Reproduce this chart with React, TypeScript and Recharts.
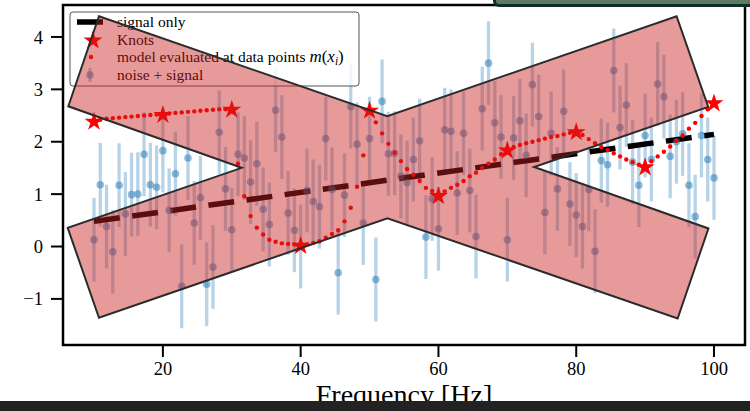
import { ComposedChart, Scatter, Line, XAxis, YAxis, ErrorBar, ReferenceArea } from 'recharts';

const freqs = [
  10.0, 10.91, 11.82, 12.73, 13.64, 14.55, 15.45, 16.36, 17.27, 18.18,
  19.09, 20.0, 20.91, 21.82, 22.73, 23.64, 24.55, 25.45, 26.36, 27.27,
  28.18, 29.09, 30.0, 30.91, 31.82, 32.73, 33.64, 34.55, 35.45, 36.36,
  37.27, 38.18, 39.09, 40.0, 40.91, 41.82, 42.73, 43.64, 44.55, 45.45,
  46.36, 47.27, 48.18, 49.09, 50.0, 50.91, 51.82, 52.73, 53.64, 54.55,
  55.45, 56.36, 57.27, 58.18, 59.09, 60.0, 60.91, 61.82, 62.73, 63.64,
  64.55, 65.45, 66.36, 67.27, 68.18, 69.09, 70.0, 70.91, 71.82, 72.73,
  73.64, 74.55, 75.45, 76.36, 77.27, 78.18, 79.09, 80.0, 80.91, 81.82,
  82.73, 83.64, 84.55, 85.45, 86.36, 87.27, 88.18, 89.09, 90.0, 90.91,
  91.82, 92.73, 93.64, 94.55, 95.45, 96.36, 97.27, 98.18, 99.09, 100.0,
];

// noise + signal
const noisy = [
  0.13, 1.18, 0.38, -0.1, 1.17, 0.62, 0.99, 1.0, 1.76, 1.18,
  1.13, 1.83, 0.69, 1.39, -0.76, 1.69, 0.45, 0.93, -0.72, -0.39,
  2.18, 1.1, 0.32, 1.76, 1.69, 1.23, 1.58, 0.71, 0.42, 2.6,
  2.09, 0.64, 0.31, 0.0, 1.07, 0.86, 0.76, 2.06, 1.09, -0.5,
  0.98, 2.67, 1.95, 0.45, 2.06, -0.63, 2.77, 1.77, 1.78, 1.34,
  1.22, 1.66, 2.02, 0.18, 0.91, 0.34, 2.23, 2.2, 1.02, 2.16,
  1.07, 0.19, 2.63, 3.5, 2.36, 2.09, 0.13, 2.07, 2.4, 1.74,
  3.09, 2.48, 0.65, 2.16, 1.1, 2.58, 0.81, 0.6, 0.38, 1.09,
  -0.09, 1.64, 1.56, 3.36, 2.27, 2.7, 1.61, 1.17, 2.12, 1.66,
  3.1, 2.86, 1.72, 2.0, 2.15, 1.17, 0.57, 2.12, 1.66, 1.31,
];

const noiseErr = [
  0.8, 0.8, 0.8, 0.8, 0.8, 0.8, 0.8, 0.8, 0.8, 0.8,
  0.8, 0.8, 0.8, 0.8, 0.8, 0.8, 0.8, 0.8, 0.8, 0.8,
  0.8, 0.8, 0.8, 0.8, 0.8, 0.8, 0.8, 0.8, 0.8, 0.8,
  0.8, 0.8, 0.8, 0.8, 0.8, 0.8, 0.8, 0.8, 0.8, 0.8,
  0.8, 0.8, 0.8, 0.8, 0.8, 0.8, 0.8, 0.8, 0.8, 0.8,
  0.8, 0.8, 0.8, 0.8, 0.8, 0.8, 0.8, 0.8, 0.8, 0.8,
  0.8, 0.8, 0.8, 0.8, 0.8, 0.8, 0.8, 0.8, 0.8, 0.8,
  0.8, 0.8, 0.8, 0.8, 0.8, 0.8, 0.8, 0.8, 0.8, 0.8,
  0.8, 0.8, 0.8, 0.8, 0.8, 0.8, 0.8, 0.8, 0.8, 0.8,
  0.8, 0.8, 0.8, 0.8, 0.8, 0.8, 0.8, 0.8, 0.8, 0.8,
];

// model evaluated at data points m(x_i)
const modelVals = [
  2.4, 2.42, 2.44, 2.45, 2.46, 2.47, 2.48, 2.49, 2.5, 2.51,
  2.52, 2.53, 2.54, 2.55, 2.56, 2.57, 2.58, 2.59, 2.6, 2.61,
  2.62, 2.62, 2.63, 1.58, 0.96, 0.58, 0.36, 0.23, 0.13, 0.09,
  0.06, 0.05, 0.04, 0.03, 0.04, 0.07, 0.1, 0.17, 0.24, 0.31,
  0.48, 0.74, 1.14, 1.74, 2.61, 2.37, 2.16, 1.96, 1.79, 1.63,
  1.48, 1.37, 1.25, 1.12, 1.06, 0.98, 1.05, 1.12, 1.18, 1.25,
  1.34, 1.41, 1.5, 1.58, 1.66, 1.76, 1.85, 1.9, 1.94, 1.97,
  2.0, 2.03, 2.06, 2.09, 2.11, 2.14, 2.17, 2.2, 2.13, 2.05,
  1.97, 1.9, 1.84, 1.78, 1.72, 1.66, 1.61, 1.56, 1.53, 1.63,
  1.72, 1.81, 1.91, 2.02, 2.12, 2.25, 2.36, 2.49, 2.62, 2.75,
];

const knotFreqs = [10, 20, 30, 40, 50, 60, 70, 80, 90, 100];
const knotVals = [2.4, 2.53, 2.63, 0.03, 2.61, 0.98, 1.85, 2.2, 1.53, 2.75];

const signalFreqs = [10, 100];
const signalVals = [0.48, 2.14];

const xTicks = [20, 40, 60, 80, 100];
const yTicks = [-1, 0, 1, 2, 3, 4];
const X_MIN = 5.5;
const X_MAX = 104.5;
const Y_MIN = -1.88;
const Y_MAX = 4.61;

// the big X drawn over the plot, vertices in data units
const crossX = [10.72, 52.57, 94.57, 99.16, 73.89, 99.19, 94.72, 52.6, 10.72, 6.18, 31.44, 6.27];
const crossY = [4.395, 2.487, 4.395, 2.666, 1.517, 0.344, -1.374, 0.54, -1.361, 0.357, 1.502, 2.677];

const pointRows = freqs.map((f, i) => ({ f, y: noisy[i], err: noiseErr[i] }));
const modelRows = freqs.map((f, i) => ({ f, y: modelVals[i] }));
const knotRows = knotFreqs.map((f, i) => ({ f, y: knotVals[i] }));
const signalRows = signalFreqs.map((f, i) => ({ f, y: signalVals[i] }));

const SERIF = '"Liberation Serif", "DejaVu Serif", serif';
const BLUE_PT = 'rgba(31,119,180,0.5)';
const BLUE_BAR = 'rgba(31,119,180,0.32)';

function starPoints(cx: number, cy: number, r: number) {
  const pts: string[] = [];
  for (let k = 0; k < 10; k++) {
    const rad = k % 2 === 0 ? r : r * 0.382;
    const a = -Math.PI / 2 + (k * Math.PI) / 5;
    pts.push(`${cx + rad * Math.cos(a)},${cy + rad * Math.sin(a)}`);
  }
  return pts.join(' ');
}

function Overlay(props: any) {
  const { x, y, width, height } = props;
  const sx = (v: number) => x + ((v - X_MIN) / (X_MAX - X_MIN)) * width;
  const sy = (v: number) => y + ((Y_MAX - v) / (Y_MAX - Y_MIN)) * height;
  const pts = crossX.map((v, i) => `${sx(v)},${sy(crossY[i])}`).join(' ');
  const lx = x + 7;
  const ly = y + 7;
  const tx = lx + 47;
  const rows = [ly + 10, ly + 27.5, ly + 45, ly + 63];
  return (
    <g>
      <rect x={x} y={y} width={width} height={height} fill="none" stroke="#000" strokeWidth={2.5} />
      <rect x={lx} y={ly} width={289} height={74} rx={3} fill="rgba(255,255,255,0.8)" stroke="#555" strokeWidth={1} />
      <line x1={lx + 7} x2={lx + 33} y1={rows[0]} y2={rows[0]} stroke="#000" strokeWidth={5.5} />
      <polygon points={starPoints(lx + 23, rows[1] + 1, 10)} fill="#ff0000" />
      <circle cx={lx + 21} cy={rows[2]} r={2.2} fill="#ff0000" />
      <line x1={lx + 20} x2={lx + 20} y1={rows[3] - 7} y2={rows[3] + 7} stroke={BLUE_BAR} strokeWidth={3.3} />
      <circle cx={lx + 20} cy={rows[3]} r={3.8} fill={BLUE_PT} />
      <g fontFamily={SERIF} fontSize={15.5} fill="#000">
        <text x={tx} y={rows[0]} dy="0.33em">signal only</text>
        <text x={tx} y={rows[1]} dy="0.33em">Knots</text>
        <text x={tx} y={rows[2]} dy="0.33em">
          model evaluated at data points <tspan fontStyle="italic" fontSize={17}>m</tspan>
          <tspan fontSize={17}>(</tspan>
          <tspan fontStyle="italic" fontSize={17}>x</tspan>
          <tspan fontStyle="italic" fontSize={11.5} dy={3}>i</tspan>
          <tspan fontSize={17} dy={-3}>)</tspan>
        </text>
        <text x={tx} y={rows[3]} dy="0.33em">noise + signal</text>
      </g>
      <polygon points={pts} fill="rgba(200,30,30,0.45)" stroke="#2b2b2b" strokeWidth={2} />
    </g>
  );
}

export default function App() {
  const tickStyle = { fill: '#000', fontSize: 18.5, fontFamily: SERIF };
  return (
    <div style={{ position: 'relative', width: 750, height: 411, overflow: 'hidden', background: '#fff' }}>
      <style>{'body{margin:0}'}</style>
      <ComposedChart width={750} height={411} margin={{ top: 5, right: 5, left: 0, bottom: 0 }}>
        <XAxis
          dataKey="f"
          type="number"
          domain={[X_MIN, X_MAX]}
          allowDataOverflow
          ticks={xTicks}
          interval={0}
          height={66}
          tickSize={12}
          tickMargin={5}
          axisLine={false}
          tickLine={{ stroke: '#000', strokeWidth: 2 }}
          tick={tickStyle}
          label={{ value: 'Frequency [Hz]', position: 'insideBottom', offset: 7, fill: '#000', fontSize: 28, fontFamily: SERIF }}
        />
        <YAxis
          type="number"
          domain={[Y_MIN, Y_MAX]}
          allowDataOverflow
          ticks={yTicks}
          interval={0}
          width={63}
          tickSize={12}
          tickMargin={8}
          axisLine={false}
          tickLine={{ stroke: '#000', strokeWidth: 2 }}
          tick={tickStyle}
          tickFormatter={(v: number) => (v < 0 ? `\u2212${Math.abs(v)}` : `${v}`)}
        />
        <Scatter
          data={pointRows}
          dataKey="y"
          isAnimationActive={false}
          shape={(p: any) => <circle cx={p.cx} cy={p.cy} r={3.8} fill={BLUE_PT} />}
        >
          <ErrorBar dataKey="err" direction="y" width={0} stroke={BLUE_BAR} strokeWidth={3.3} isAnimationActive={false} />
        </Scatter>
        <Line
          data={signalRows}
          dataKey="y"
          type="linear"
          stroke="#000"
          strokeWidth={5.5}
          strokeDasharray="26 12.5"
          dot={false}
          activeDot={false}
          isAnimationActive={false}
        />
        <Scatter
          data={modelRows}
          dataKey="y"
          isAnimationActive={false}
          shape={(p: any) => <circle cx={p.cx} cy={p.cy} r={2.2} fill="#ff0000" />}
        />
        <Scatter
          data={knotRows}
          dataKey="y"
          isAnimationActive={false}
          shape={(p: any) => <polygon points={starPoints(p.cx, p.cy + 1, 10)} fill="#ff0000" />}
        />
        <ReferenceArea
          x1={X_MIN}
          x2={X_MAX}
          y1={Y_MIN}
          y2={Y_MAX}
          ifOverflow="visible"
          zIndex={5000}
          shape={(p: any) => <Overlay {...p} />}
        />
      </ComposedChart>
      <div
        style={{
          position: 'absolute', left: 493, top: -10, width: 270, height: 11,
          background: '#5d7b62', border: '3px solid #0e2d2d', borderRadius: 6,
        }}
      />
      <div style={{ position: 'absolute', left: 0, top: 401, width: 750, height: 10, background: '#222' }} />
    </div>
  );
}
